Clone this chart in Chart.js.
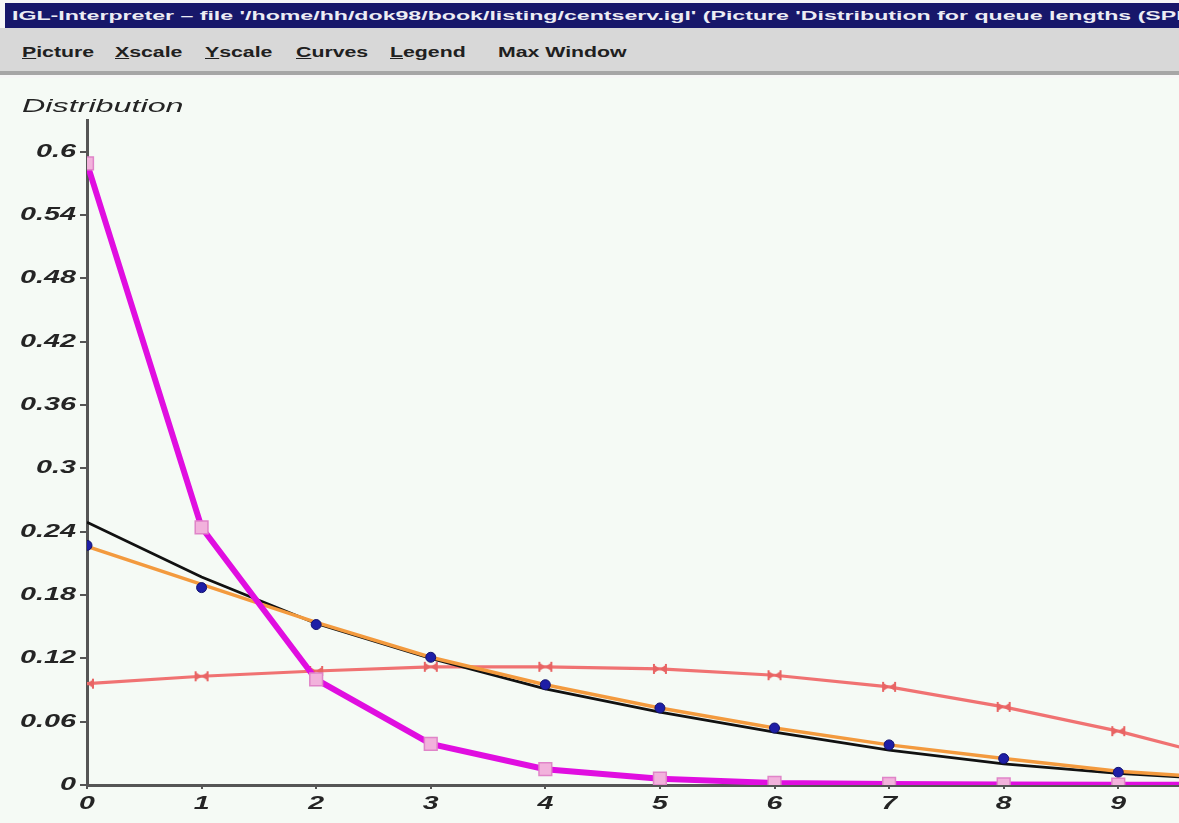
<!DOCTYPE html>
<html>
<head>
<meta charset="utf-8">
<script src="https://cdn.jsdelivr.net/npm/chart.js@4/dist/chart.umd.min.js"></script>
<style>
  html, body { margin: 0; padding: 0; width: 1179px; height: 823px; overflow: hidden; background: #f6f6f6; font-family: "Liberation Sans", Arial, sans-serif; }
  #titlebar { position: absolute; left: 5px; top: 3px; width: 1174px; height: 25px; background: #17176a; overflow: hidden; }
  #titlebar span { position: absolute; left: 7px; top: 5px; font-weight: bold; font-size: 13px; color: #ececf4; white-space: nowrap; transform: scaleX(1.78); transform-origin: 0 0; }
  #menubar { position: absolute; left: 0; top: 28px; width: 1179px; height: 43px; background: #d8d8d8; border-bottom: 4px solid #a6a6a6; }
  .menu { position: absolute; top: 16px; font-weight: bold; font-size: 14px; color: #202020; white-space: nowrap; transform: scaleX(1.52); transform-origin: 0 0; }
  #plot { position: absolute; left: 0; top: 78px; width: 1179px; height: 745px; background: #f5faf5; }
</style>
</head>
<body>
<div id="titlebar"><span>IGL-Interpreter – file '/home/hh/dok98/book/listing/centserv.igl' (Picture 'Distribution for queue lengths (SPNP)')</span></div>
<div id="menubar">
  <div class="menu" style="left:22px"><u>P</u>icture</div>
  <div class="menu" style="left:115px"><u>X</u>scale</div>
  <div class="menu" style="left:205px"><u>Y</u>scale</div>
  <div class="menu" style="left:296px"><u>C</u>urves</div>
  <div class="menu" style="left:390px"><u>L</u>egend</div>
  <div class="menu" style="left:498px">Max Window</div>
</div>
<div id="plot"><canvas id="chart" width="1179" height="745"></canvas></div>
<script>
// Queue length (number of customers) on the x axis
const queueLength = [0, 1, 2, 3, 4, 5, 6, 7, 8, 9, 10];

// Probability of each queue length, one array per curve
const magentaCurve = [0.589, 0.244, 0.100, 0.039, 0.015, 0.006, 0.002, 0.001, 0.0005, 0.0003, 0.0002];
const blackCurve   = [0.249, 0.197, 0.153, 0.120, 0.091, 0.069, 0.050, 0.033, 0.020, 0.011, 0.005];
const orangeCurve  = [0.226, 0.190, 0.154, 0.121, 0.095, 0.073, 0.054, 0.038, 0.025, 0.013, 0.006];
const blueDots     = [0.227, 0.187, 0.152, 0.121, 0.095, 0.073, 0.054, 0.038, 0.025, 0.012];
const redCurve     = [0.096, 0.103, 0.108, 0.112, 0.112, 0.110, 0.104, 0.093, 0.074, 0.051, 0.023];

// Tick values and their printed labels
const xTickValues = [0, 1, 2, 3, 4, 5, 6, 7, 8, 9];
const xTickLabels = ['0', '1', '2', '3', '4', '5', '6', '7', '8', '9'];
const yTickValues = [0, 0.06, 0.12, 0.18, 0.24, 0.30, 0.36, 0.42, 0.48, 0.54, 0.60];
const yTickLabels = ['0', '0.06', '0.12', '0.18', '0.24', '0.3', '0.36', '0.42', '0.48', '0.54', '0.6'];
const yAxisTitle = 'Distribution';

const toPoints = (ys) => ys.map((v, i) => ({ x: queueLength[i], y: v }));

// Sideways bow-tie marker for the red curve
function bowtie(color) {
  const c = document.createElement('canvas');
  c.width = 16; c.height = 12;
  const g = c.getContext('2d');
  g.fillStyle = color;
  g.beginPath(); g.moveTo(1.5, 1.5); g.lineTo(8, 6); g.lineTo(1.5, 10.5); g.closePath(); g.fill();
  g.beginPath(); g.moveTo(14.5, 1.5); g.lineTo(8, 6); g.lineTo(14.5, 10.5); g.closePath(); g.fill();
  g.fillRect(1, 1, 2, 10); g.fillRect(13, 1, 2, 10);
  return c;
}

// Wide oblique lettering for the axis labels
function stretchedText(ctx, text, x, y, sx) {
  ctx.save();
  ctx.translate(x, y);
  ctx.scale(sx, 1);
  ctx.fillText(text, 0, 0);
  ctx.restore();
}

const axisLabels = {
  id: 'axisLabels',
  afterDraw(chart) {
    const { ctx } = chart;
    const xs = chart.scales.x, ys = chart.scales.y;
    ctx.save();
    ctx.fillStyle = '#242424';
    ctx.textAlign = 'left';
    ctx.textBaseline = 'middle';

    const SY = 1.6;
    ctx.font = 'italic bold 18px "Liberation Sans"';
    yTickValues.forEach((v, i) => {
      const t = yTickLabels[i];
      const w = ctx.measureText(t).width * SY;
      stretchedText(ctx, t, 76 - w, ys.getPixelForValue(v), SY);
    });

    const SX = 1.5;
    ctx.font = 'italic bold 19px "Liberation Sans"';
    xTickValues.forEach((v, i) => {
      const t = xTickLabels[i];
      const w = ctx.measureText(t).width * SX;
      stretchedText(ctx, t, xs.getPixelForValue(v) - w / 2, ys.bottom + 19, SX);
    });

    ctx.textBaseline = 'alphabetic';
    ctx.font = 'italic 19px "Liberation Sans"';
    stretchedText(ctx, yAxisTitle, 22, 34, 1.7);
    ctx.restore();
  }
};

const axisLine = '#555555';

new Chart(document.getElementById('chart'), {
  type: 'line',
  data: {
    datasets: [
      {
        data: toPoints(magentaCurve),
        borderColor: '#e00ee0', borderWidth: 6,
        pointStyle: 'rect', pointRadius: 9,
        pointBackgroundColor: '#f2b2dc', pointBorderColor: '#e084c8', pointBorderWidth: 1.5,
        tension: 0, order: 1
      },
      {
        data: toPoints(blueDots), showLine: false,
        pointStyle: 'circle', pointRadius: 5,
        pointBackgroundColor: '#1e1ea6', pointBorderColor: '#12126e', pointBorderWidth: 1,
        order: 2
      },
      {
        data: toPoints(orangeCurve),
        borderColor: '#f39a3e', borderWidth: 3.5, pointRadius: 0,
        tension: 0, order: 3
      },
      {
        data: toPoints(blackCurve),
        borderColor: '#111111', borderWidth: 2.8, pointRadius: 0,
        tension: 0, order: 4
      },
      {
        data: toPoints(redCurve),
        borderColor: '#f07272', borderWidth: 3.2,
        pointStyle: bowtie('#e86464'), pointRadius: 6,
        tension: 0, order: 5
      }
    ]
  },
  options: {
    responsive: false,
    animation: false,
    devicePixelRatio: 1,
    layout: { autoPadding: false, padding: { top: 42, left: 0, right: 0, bottom: 0 } },
    plugins: { legend: { display: false }, tooltip: { enabled: false } },
    scales: {
      x: {
        type: 'linear', min: 0, max: 9.53,
        afterBuildTicks: (s) => { s.ticks = xTickValues.map((v) => ({ value: v })); },
        afterFit: (s) => { s.height = 38; },
        ticks: { display: false },
        grid: { display: true, drawOnChartArea: false, drawTicks: true, tickLength: 4, color: axisLine, lineWidth: 2 },
        border: { display: true, color: axisLine, width: 3 }
      },
      y: {
        type: 'linear', min: 0, max: 0.63,
        afterBuildTicks: (s) => { s.ticks = yTickValues.map((v) => ({ value: v })); },
        afterFit: (s) => { s.width = 87; },
        ticks: { display: false },
        grid: { display: true, drawOnChartArea: false, drawTicks: true, tickLength: 7, color: axisLine, lineWidth: 2 },
        border: { display: true, color: axisLine, width: 3 }
      }
    }
  },
  plugins: [axisLabels]
});
</script>
</body>
</html>
